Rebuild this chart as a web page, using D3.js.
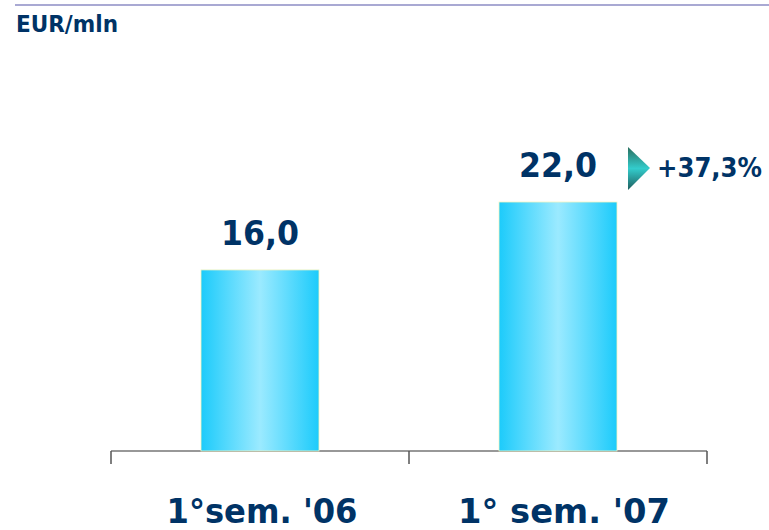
<!DOCTYPE html>
<html><head><meta charset="utf-8">
<script src="https://cdn.jsdelivr.net/npm/d3@7"></script>
<style>body{margin:0;background:#fff}svg{display:block}</style>
</head><body>
<script>
const categories = ["1°sem. '06", "1° sem. '07"];
const values = [16.0, 22.0];
const valueLabels = ["16,0", "22,0"];
const growthLabel = "+37,3%";
const unitLabel = "EUR/mln";

const W = 769, H = 530;
const navy = "#003366";
const svg = d3.select("body").append("svg").attr("width", W).attr("height", H);

const defs = svg.append("defs");
const bg = defs.append("linearGradient").attr("id", "barGrad").attr("x1", "0").attr("x2", "1").attr("y1", "0").attr("y2", "0");
bg.append("stop").attr("offset", "0").attr("stop-color", "#1ccbfb");
bg.append("stop").attr("offset", "0.5").attr("stop-color", "#9beaff");
bg.append("stop").attr("offset", "1").attr("stop-color", "#1ccbfb");
const tg = defs.append("linearGradient").attr("id", "triGrad").attr("x1", "0").attr("x2", "0").attr("y1", "0").attr("y2", "1");
tg.append("stop").attr("offset", "0").attr("stop-color", "#2a6e5e");
tg.append("stop").attr("offset", "0.5").attr("stop-color", "#33cccc");
tg.append("stop").attr("offset", "1").attr("stop-color", "#1e5e5e");

// top rule
svg.append("line").attr("x1", 15).attr("x2", W).attr("y1", 5).attr("y2", 5)
  .attr("stroke", "#8c8cc4").attr("stroke-width", 1.5);
svg.append("text").attr("x", 16).attr("y", 32).text(unitLabel)
  .attr("font-family", "DejaVu Sans").attr("font-weight", "bold").attr("font-size", 23)
  .attr("textLength", 102).attr("lengthAdjust", "spacingAndGlyphs").attr("fill", navy);

const x = d3.scaleBand().domain(categories).range([111, 707]).padding(0);
const y = d3.scaleLinear().domain([0, 22]).range([451, 202]);
const barW = x.bandwidth() * 0.396;

// axis
const axisG = svg.append("g").attr("transform", "translate(0,451)");
axisG.append("line").attr("x1", 111).attr("x2", 707).attr("stroke", "#333").attr("stroke-width", 1.2);
const tickXs = categories.map(c => x(c)).concat([x(categories[categories.length - 1]) + x.bandwidth()]);
axisG.selectAll("line.tick").data(tickXs).join("line").attr("class", "tick")
  .attr("x1", d => d).attr("x2", d => d).attr("y1", 0).attr("y2", 13)
  .attr("stroke", "#555").attr("stroke-width", 1.5);

// bars
svg.selectAll("rect.bar").data(values).join("rect").attr("class", "bar")
  .attr("x", (d, i) => x(categories[i]) + x.bandwidth() / 2 - barW / 2)
  .attr("width", barW)
  .attr("y", d => y(d))
  .attr("height", d => y(0) - y(d))
  .attr("fill", "url(#barGrad)")
  .attr("stroke", "#f4f4c0").attr("stroke-width", 0.8);

// value labels
svg.selectAll("text.val").data(values).join("text").attr("class", "val")
  .attr("x", (d, i) => x(categories[i]) + x.bandwidth() / 2)
  .attr("y", d => y(d) - 25)
  .attr("text-anchor", "middle")
  .attr("font-family", "DejaVu Sans").attr("font-weight", "bold").attr("font-size", 34)
  .attr("textLength", 78).attr("lengthAdjust", "spacingAndGlyphs")
  .attr("fill", navy)
  .text((d, i) => valueLabels[i]);

// category labels
const catDx = [2, 6];
const catW = [191, 212];
svg.selectAll("text.cat").data(categories).join("text").attr("class", "cat")
  .attr("x", (d, i) => x(d) + x.bandwidth() / 2 + catDx[i])
  .attr("y", 523)
  .attr("text-anchor", "middle")
  .attr("font-family", "DejaVu Sans").attr("font-weight", "bold").attr("font-size", 34)
  .attr("textLength", (d, i) => catW[i]).attr("lengthAdjust", "spacingAndGlyphs")
  .attr("fill", navy)
  .text(d => d);

// growth annotation
const last = values.length - 1;
const gx = x(categories[last]) + x.bandwidth() / 2 + barW / 2 + 11;
const gy = y(values[last]) - 34;
svg.append("path")
  .attr("d", `M${gx},${gy - 21} L${gx + 22},${gy} L${gx},${gy + 22} Z`)
  .attr("fill", "url(#triGrad)");
svg.append("text").attr("x", gx + 29).attr("y", y(values[last]) - 25)
  .attr("font-family", "DejaVu Sans").attr("font-weight", "bold").attr("font-size", 27)
  .attr("textLength", 105).attr("lengthAdjust", "spacingAndGlyphs")
  .attr("fill", navy).text(growthLabel);
</script>
</body></html>
